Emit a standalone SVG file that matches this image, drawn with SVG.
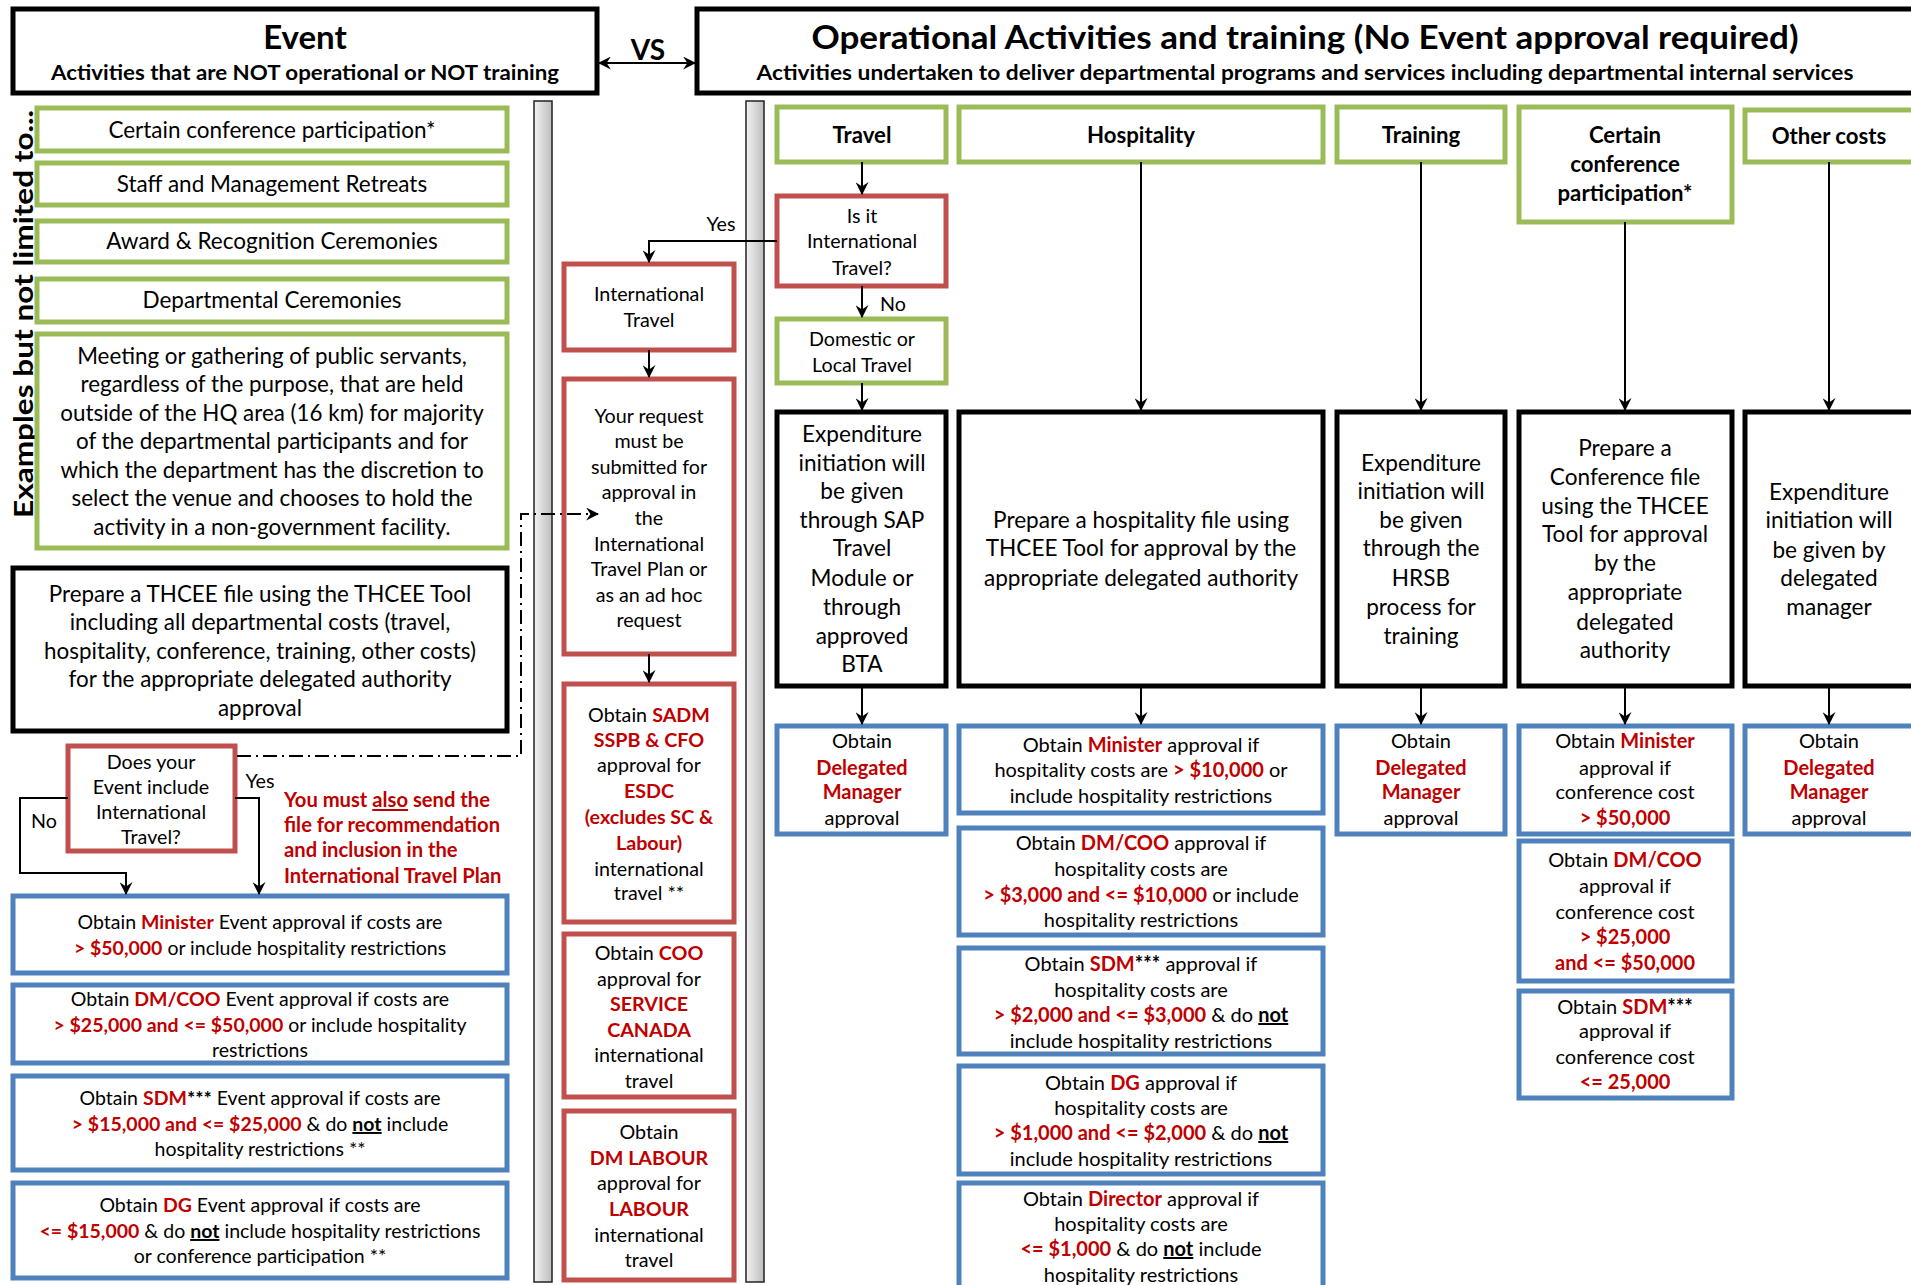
<svg xmlns="http://www.w3.org/2000/svg" width="1911" height="1285" viewBox="0 0 1911 1285">
<defs>
<style>
.box{fill:#fff;stroke-width:5}
.grn{stroke:#9BBB59}
.red{stroke:#C0504D}
.blu{stroke:#4F81BD}
.blk{stroke:#000}
text{font-family:Lato,"Open Sans",sans-serif;fill:#000;text-anchor:middle}
.t1{font-size:22.5px}
.t2{font-size:22.4px}
.t3{font-size:19.5px}
.t4{font-size:19.7px}
.t5{font-size:22.6px}
.t6{font-size:20px}
.h{font-size:22.2px;font-weight:bold}
.b{font-weight:bold}
.r{fill:#C00000;font-weight:bold}
.u{text-decoration:underline}
.conn{stroke:#000;stroke-width:2;fill:none}
.bar{fill:url(#gbar);stroke:#222;stroke-width:1.5}
</style>
<linearGradient id="gbar" x1="0" y1="0" x2="1" y2="0">
<stop offset="0" stop-color="#f2f2f2"/><stop offset="1" stop-color="#bdbdbd"/>
</linearGradient>
<marker id="ah" viewBox="0 0 12 12" refX="11" refY="6" markerWidth="13" markerHeight="13" orient="auto-start-reverse" markerUnits="userSpaceOnUse">
<path d="M0,0 L12,6 L0,12 L4,6 z" fill="#000"/>
</marker>
</defs>

<!-- headers -->
<g id="event-header">
<rect class="box blk" x="13" y="9" width="584" height="84"/>
<text class="b" x="305" y="49" font-size="33">Event</text>
<text class="b" x="305" y="80" font-size="20" textLength="508" lengthAdjust="spacingAndGlyphs">Activities that are NOT operational or NOT training</text>
</g>
<g id="vs-label"><text class="b" x="648" y="60" font-size="28">VS</text></g>
<g id="operational-header">
<rect class="box blk" x="697" y="9" width="1230" height="84"/>
<text class="b" x="1305" y="49" font-size="33" textLength="987" lengthAdjust="spacingAndGlyphs">Operational Activities and training (No Event approval required)</text>
<text class="b" x="1305" y="80" font-size="20" textLength="1097" lengthAdjust="spacingAndGlyphs">Activities undertaken to deliver departmental programs and services including departmental internal services</text>
</g>

<g id="examples-label">
<text class="b" transform="translate(33,314) rotate(-90)" font-size="27" textLength="408" lengthAdjust="spacingAndGlyphs">Examples but not limited to...</text>
</g>

<!-- gray bars -->
<g id="divider-1"><rect class="bar" x="534" y="101" width="18" height="1181"/></g>
<g id="divider-2"><rect class="bar" x="746" y="101" width="18" height="1181"/></g>

<!-- left column -->
<g id="ex-conference"><rect class="box grn" x="37" y="108" width="470" height="43"/><text class="t1" x="272" y="138">Certain conference participation*</text></g>
<g id="ex-retreats"><rect class="box grn" x="37" y="163" width="470" height="42"/><text class="t1" x="272" y="192">Staff and Management Retreats</text></g>
<g id="ex-awards"><rect class="box grn" x="37" y="221" width="470" height="41"/><text class="t1" x="272" y="249">Award &amp; Recognition Ceremonies</text></g>
<g id="ex-ceremonies"><rect class="box grn" x="37" y="279" width="470" height="43"/><text class="t1" x="272" y="308">Departmental Ceremonies</text></g>
<g id="ex-meeting"><rect class="box grn" x="37" y="334" width="470" height="214"/>
<text class="t2" x="272" y="364">Meeting or gathering of public servants,</text>
<text class="t2" x="272" y="392">regardless of the purpose, that are held</text>
<text class="t2" x="272" y="421">outside of the HQ area (16 km) for majority</text>
<text class="t2" x="272" y="449">of the departmental participants and for</text>
<text class="t2" x="272" y="478">which the department has the discretion to</text>
<text class="t2" x="272" y="506">select the venue and chooses to hold the</text>
<text class="t2" x="272" y="535">activity in a non-government facility.</text>
</g>
<g id="thcee-file"><rect class="box blk" x="13" y="568" width="494" height="163"/>
<text class="t2" x="260" y="602">Prepare a THCEE file using the THCEE Tool</text>
<text class="t2" x="260" y="630">including all departmental costs (travel,</text>
<text class="t2" x="260" y="659">hospitality, conference, training, other costs)</text>
<text class="t2" x="260" y="687">for the appropriate delegated authority</text>
<text class="t2" x="260" y="716">approval</text>
</g>
<g id="event-intl-question"><rect class="box red" x="68" y="746" width="167" height="105"/>
<text class="t4" x="151" y="769">Does your</text>
<text class="t4" x="151" y="794">Event include</text>
<text class="t4" x="151" y="819">International</text>
<text class="t4" x="151" y="844">Travel?</text>
</g>
<g id="itp-note">
<text class="r" font-size="20.2" style="text-anchor:start" x="284" y="807">You must <tspan class="u">also</tspan> send the</text>
<text class="r" font-size="20.2" style="text-anchor:start" x="284" y="832">file for recommendation</text>
<text class="r" font-size="20.2" style="text-anchor:start" x="284" y="857">and inclusion in the</text>
<text class="r" font-size="20.2" style="text-anchor:start" x="284" y="883">International Travel Plan</text>
</g>
<g id="ev-minister"><rect class="box blu" x="13" y="896" width="494" height="77"/>
<text class="t3" x="260" y="929">Obtain <tspan class="r">Minister</tspan> Event approval if costs are</text>
<text class="t3" x="260" y="955"><tspan class="r">&gt; $50,000</tspan> or include hospitality restrictions</text>
</g>
<g id="ev-dmcoo"><rect class="box blu" x="13" y="985" width="494" height="78"/>
<text class="t3" x="260" y="1006">Obtain <tspan class="r">DM/COO</tspan> Event approval if costs are</text>
<text class="t3" x="260" y="1032"><tspan class="r">&gt; $25,000 and &lt;= $50,000</tspan> or include hospitality</text>
<text class="t3" x="260" y="1057">restrictions</text>
</g>
<g id="ev-sdm"><rect class="box blu" x="13" y="1076" width="494" height="94"/>
<text class="t3" x="260" y="1105">Obtain <tspan class="r">SDM</tspan><tspan class="b">***</tspan> Event approval if costs are</text>
<text class="t3" x="260" y="1131"><tspan class="r">&gt; $15,000 and &lt;= $25,000</tspan> &amp; do <tspan class="b u">not</tspan> include</text>
<text class="t3" x="260" y="1156">hospitality restrictions **</text>
</g>
<g id="ev-dg"><rect class="box blu" x="13" y="1183" width="494" height="95"/>
<text class="t3" x="260" y="1212">Obtain <tspan class="r">DG</tspan> Event approval if costs are</text>
<text class="t3" x="260" y="1238"><tspan class="r">&lt;= $15,000</tspan> &amp; do <tspan class="b u">not</tspan> include hospitality restrictions</text>
<text class="t3" x="260" y="1263">or conference participation **</text>
</g>

<!-- middle column -->
<g id="intl-travel"><rect class="box red" x="564" y="264" width="170" height="86"/>
<text class="t4" x="649" y="301">International</text>
<text class="t4" x="649" y="327">Travel</text>
</g>
<g id="intl-request"><rect class="box red" x="564" y="379" width="170" height="275"/>
<text class="t4" x="649" y="423">Your request</text>
<text class="t4" x="649" y="448">must be</text>
<text class="t4" x="649" y="474">submitted for</text>
<text class="t4" x="649" y="499">approval in</text>
<text class="t4" x="649" y="525">the</text>
<text class="t4" x="649" y="551">International</text>
<text class="t4" x="649" y="576">Travel Plan or</text>
<text class="t4" x="649" y="602">as an ad hoc</text>
<text class="t4" x="649" y="627">request</text>
</g>
<g id="intl-sadm"><rect class="box red" x="564" y="684" width="170" height="238"/>
<text class="t4" x="649" y="722">Obtain <tspan class="r">SADM</tspan></text>
<text class="t4 r" x="649" y="747">SSPB &amp; CFO</text>
<text class="t4" x="649" y="772">approval for</text>
<text class="t4 r" x="649" y="798">ESDC</text>
<text class="t4 r" x="649" y="824">(excludes SC &amp;</text>
<text class="t4 r" x="649" y="850">Labour)</text>
<text class="t4" x="649" y="876">international</text>
<text class="t4" x="649" y="900">travel **</text>
</g>
<g id="intl-coo"><rect class="box red" x="564" y="934" width="170" height="163"/>
<text class="t4" x="649" y="960">Obtain <tspan class="r">COO</tspan></text>
<text class="t4" x="649" y="986">approval for</text>
<text class="t4 r" x="649" y="1011">SERVICE</text>
<text class="t4 r" x="649" y="1037">CANADA</text>
<text class="t4" x="649" y="1062">international</text>
<text class="t4" x="649" y="1088">travel</text>
</g>
<g id="intl-labour"><rect class="box red" x="564" y="1111" width="170" height="169"/>
<text class="t4" x="649" y="1139">Obtain</text>
<text class="t4 r" x="649" y="1165">DM LABOUR</text>
<text class="t4" x="649" y="1190">approval for</text>
<text class="t4 r" x="649" y="1216">LABOUR</text>
<text class="t4" x="649" y="1242">international</text>
<text class="t4" x="649" y="1267">travel</text>
</g>

<!-- travel column -->
<g id="travel"><rect class="box grn" x="777" y="107" width="169" height="55"/><text class="h" x="862" y="143">Travel</text></g>
<g id="travel-question"><rect class="box red" x="777" y="196" width="169" height="90"/>
<text class="t4" x="862" y="223">Is it</text>
<text class="t4" x="862" y="248">International</text>
<text class="t4" x="862" y="275">Travel?</text>
</g>
<g id="domestic"><rect class="box grn" x="777" y="319" width="169" height="64"/>
<text class="t4" x="862" y="346">Domestic or</text>
<text class="t4" x="862" y="372">Local Travel</text>
</g>
<g id="travel-exp"><rect class="box blk" x="777" y="412" width="169" height="274"/>
<text class="t5" x="862" y="442">Expenditure</text>
<text class="t5" x="862" y="471">initiation will</text>
<text class="t5" x="862" y="499">be given</text>
<text class="t5" x="862" y="528">through SAP</text>
<text class="t5" x="862" y="556">Travel</text>
<text class="t5" x="862" y="586">Module or</text>
<text class="t5" x="862" y="615">through</text>
<text class="t5" x="862" y="644">approved</text>
<text class="t5" x="862" y="672">BTA</text>
</g>
<g id="travel-approval"><rect class="box blu" x="777" y="726" width="169" height="108"/>
<text class="t6" x="862" y="748">Obtain</text>
<text class="t6 r" x="862" y="775">Delegated</text>
<text class="t6 r" x="862" y="799">Manager</text>
<text class="t6" x="862" y="825">approval</text>
</g>

<!-- hospitality column -->
<g id="hospitality"><rect class="box grn" x="959" y="107" width="364" height="55"/><text class="h" x="1141" y="143">Hospitality</text></g>
<g id="hosp-file"><rect class="box blk" x="959" y="412" width="364" height="274"/>
<text class="t5" x="1141" y="528">Prepare a hospitality file using</text>
<text class="t5" x="1141" y="556">THCEE Tool for approval by the</text>
<text class="t5" x="1141" y="586">appropriate delegated authority</text>
</g>
<g id="hosp-minister"><rect class="box blu" x="959" y="726" width="364" height="87"/>
<text class="t6" x="1141" y="752">Obtain <tspan class="r">Minister</tspan> approval if</text>
<text class="t6" x="1141" y="777">hospitality costs are  <tspan class="r">&gt; $10,000</tspan> or</text>
<text class="t6" x="1141" y="803">include hospitality restrictions</text>
</g>
<g id="hosp-dmcoo"><rect class="box blu" x="959" y="828" width="364" height="107"/>
<text class="t6" x="1141" y="850">Obtain <tspan class="r">DM/COO</tspan> approval if</text>
<text class="t6" x="1141" y="876">hospitality costs are</text>
<text class="t6" x="1141" y="902"><tspan class="r">&gt; $3,000 and &lt;= $10,000</tspan> or include</text>
<text class="t6" x="1141" y="927">hospitality restrictions</text>
</g>
<g id="hosp-sdm"><rect class="box blu" x="959" y="948" width="364" height="106"/>
<text class="t6" x="1141" y="971">Obtain <tspan class="r">SDM</tspan><tspan class="b">***</tspan> approval if</text>
<text class="t6" x="1141" y="997">hospitality costs are</text>
<text class="t6" x="1141" y="1022"><tspan class="r">&gt; $2,000 and &lt;= $3,000</tspan> &amp; do <tspan class="b u">not</tspan></text>
<text class="t6" x="1141" y="1048">include hospitality restrictions</text>
</g>
<g id="hosp-dg"><rect class="box blu" x="959" y="1066" width="364" height="108"/>
<text class="t6" x="1141" y="1090">Obtain <tspan class="r">DG</tspan> approval if</text>
<text class="t6" x="1141" y="1115">hospitality costs are</text>
<text class="t6" x="1141" y="1140"><tspan class="r">&gt; $1,000 and &lt;= $2,000</tspan> &amp; do <tspan class="b u">not</tspan></text>
<text class="t6" x="1141" y="1166">include hospitality restrictions</text>
</g>
<g id="hosp-director"><rect class="box blu" x="959" y="1183" width="364" height="110"/>
<text class="t6" x="1141" y="1206">Obtain <tspan class="r">Director</tspan> approval if</text>
<text class="t6" x="1141" y="1231">hospitality costs are</text>
<text class="t6" x="1141" y="1256"><tspan class="r">&lt;= $1,000</tspan> &amp; do <tspan class="b u">not</tspan> include</text>
<text class="t6" x="1141" y="1282">hospitality restrictions</text>
</g>

<!-- training column -->
<g id="training"><rect class="box grn" x="1337" y="107" width="168" height="55"/><text class="h" x="1421" y="143">Training</text></g>
<g id="training-exp"><rect class="box blk" x="1337" y="412" width="168" height="274"/>
<text class="t5" x="1421" y="471">Expenditure</text>
<text class="t5" x="1421" y="499">initiation will</text>
<text class="t5" x="1421" y="528">be given</text>
<text class="t5" x="1421" y="556">through the</text>
<text class="t5" x="1421" y="586">HRSB</text>
<text class="t5" x="1421" y="615">process for</text>
<text class="t5" x="1421" y="644">training</text>
</g>
<g id="training-approval"><rect class="box blu" x="1337" y="726" width="168" height="108"/>
<text class="t6" x="1421" y="748">Obtain</text>
<text class="t6 r" x="1421" y="775">Delegated</text>
<text class="t6 r" x="1421" y="799">Manager</text>
<text class="t6" x="1421" y="825">approval</text>
</g>

<!-- conference column -->
<g id="conference"><rect class="box grn" x="1519" y="107" width="213" height="115"/>
<text class="h" x="1625" y="143">Certain</text>
<text class="h" x="1625" y="172">conference</text>
<text class="h" x="1625" y="201">participation*</text>
</g>
<g id="conf-file"><rect class="box blk" x="1519" y="412" width="213" height="274"/>
<text class="t5" x="1625" y="456">Prepare a</text>
<text class="t5" x="1625" y="485">Conference file</text>
<text class="t5" x="1625" y="514">using the THCEE</text>
<text class="t5" x="1625" y="542">Tool for approval</text>
<text class="t5" x="1625" y="571">by the</text>
<text class="t5" x="1625" y="600">appropriate</text>
<text class="t5" x="1625" y="630">delegated</text>
<text class="t5" x="1625" y="658">authority</text>
</g>
<g id="conf-minister"><rect class="box blu" x="1519" y="726" width="213" height="108"/>
<text class="t6" x="1625" y="748">Obtain <tspan class="r">Minister</tspan></text>
<text class="t6" x="1625" y="775">approval if</text>
<text class="t6" x="1625" y="799">conference cost</text>
<text class="t6 r" x="1625" y="825">&gt; $50,000</text>
</g>
<g id="conf-dmcoo"><rect class="box blu" x="1519" y="841" width="213" height="140"/>
<text class="t6" x="1625" y="867">Obtain <tspan class="r">DM/COO</tspan></text>
<text class="t6" x="1625" y="893">approval if</text>
<text class="t6" x="1625" y="919">conference cost</text>
<text class="t6 r" x="1625" y="944">&gt; $25,000</text>
<text class="t6 r" x="1625" y="970">and &lt;= $50,000</text>
</g>
<g id="conf-sdm"><rect class="box blu" x="1519" y="991" width="213" height="107"/>
<text class="t6" x="1625" y="1014">Obtain <tspan class="r">SDM</tspan><tspan class="b">***</tspan></text>
<text class="t6" x="1625" y="1038">approval if</text>
<text class="t6" x="1625" y="1064">conference cost</text>
<text class="t6 r" x="1625" y="1089">&lt;= 25,000</text>
</g>

<!-- other costs column -->
<g id="other"><rect class="box grn" x="1745" y="110" width="172" height="52"/><text class="h" x="1829" y="144">Other costs</text></g>
<g id="other-exp"><rect class="box blk" x="1745" y="412" width="172" height="274"/>
<text class="t5" x="1829" y="500">Expenditure</text>
<text class="t5" x="1829" y="528">initiation will</text>
<text class="t5" x="1829" y="558">be given by</text>
<text class="t5" x="1829" y="586">delegated</text>
<text class="t5" x="1829" y="615">manager</text>
</g>
<g id="other-approval"><rect class="box blu" x="1745" y="726" width="172" height="108"/>
<text class="t6" x="1829" y="748">Obtain</text>
<text class="t6 r" x="1829" y="775">Delegated</text>
<text class="t6 r" x="1829" y="799">Manager</text>
<text class="t6" x="1829" y="825">approval</text>
</g>

<!-- connectors -->
<g id="connectors">
<path class="conn" d="M599,63 H695" marker-start="url(#ah)" marker-end="url(#ah)"/>
<path class="conn" d="M68,798 H20 V873 H126 V894" marker-end="url(#ah)"/>
<path class="conn" d="M235,798 H259 V894" marker-end="url(#ah)"/>
<path class="conn" d="M237,756 H521 V514 H598" stroke-dasharray="14,5,2,5" marker-end="url(#ah)"/>
<path class="conn" d="M862,162 V194" marker-end="url(#ah)"/>
<path class="conn" d="M862,286 V317" marker-end="url(#ah)"/>
<path class="conn" d="M862,383 V410" marker-end="url(#ah)"/>
<path class="conn" d="M777,241 H649 V262" marker-end="url(#ah)"/>
<path class="conn" d="M649,350 V377" marker-end="url(#ah)"/>
<path class="conn" d="M649,654 V682" marker-end="url(#ah)"/>
<path class="conn" d="M1141,162 V410" marker-end="url(#ah)"/>
<path class="conn" d="M1421,162 V410" marker-end="url(#ah)"/>
<path class="conn" d="M1625,222 V410" marker-end="url(#ah)"/>
<path class="conn" d="M1829,162 V410" marker-end="url(#ah)"/>
<path class="conn" d="M862,686 V724" marker-end="url(#ah)"/>
<path class="conn" d="M1141,686 V724" marker-end="url(#ah)"/>
<path class="conn" d="M1421,686 V724" marker-end="url(#ah)"/>
<path class="conn" d="M1625,686 V724" marker-end="url(#ah)"/>
<path class="conn" d="M1829,686 V724" marker-end="url(#ah)"/>
</g>
<g id="connector-labels">
<text class="t4" x="721" y="231">Yes</text>
<text class="t4" x="893" y="311">No</text>
<text class="t4" x="44" y="828">No</text>
<text class="t4" x="260" y="788">Yes</text>
</g>
</svg>
